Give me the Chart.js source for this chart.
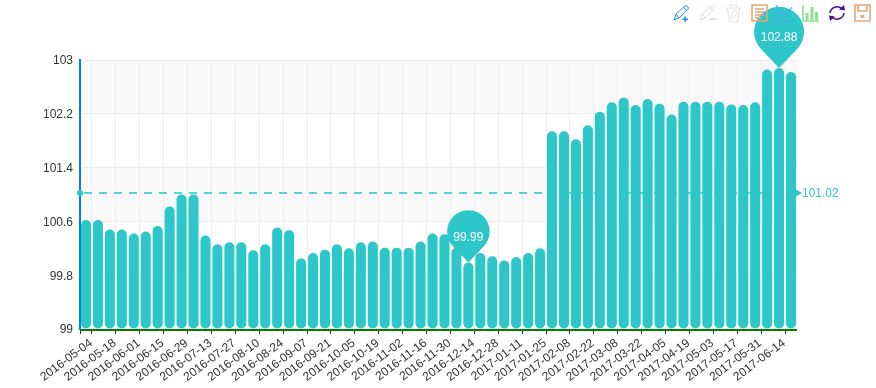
<!DOCTYPE html>
<html><head><meta charset="utf-8">
<style>html,body{margin:0;padding:0;background:#fff}#w{position:relative;width:876px;height:388px}canvas{display:block}</style>
<script src="https://cdn.jsdelivr.net/npm/chart.js@4"></script>
</head><body><div id="w"><canvas id="c" width="876" height="388"></canvas></div>
<script>
const categories = [
"2016-05-04","2016-05-11","2016-05-18","2016-05-25","2016-06-01","2016-06-08","2016-06-15","2016-06-22","2016-06-29",
"2016-07-06","2016-07-13","2016-07-20","2016-07-27","2016-08-03","2016-08-10","2016-08-17","2016-08-24","2016-08-31",
"2016-09-07","2016-09-14","2016-09-21","2016-09-28","2016-10-05","2016-10-12","2016-10-19","2016-10-26",
"2016-11-02","2016-11-09","2016-11-16","2016-11-23","2016-11-30","2016-12-07","2016-12-14","2016-12-21","2016-12-28",
"2017-01-04","2017-01-11","2017-01-18","2017-01-25","2017-02-01","2017-02-08","2017-02-15","2017-02-22",
"2017-03-01","2017-03-08","2017-03-15","2017-03-22","2017-03-29","2017-04-05","2017-04-12","2017-04-19","2017-04-26",
"2017-05-03","2017-05-10","2017-05-17","2017-05-24","2017-05-31","2017-06-07","2017-06-14","2017-06-21"];
const values = [
100.62,100.62,100.48,100.48,100.42,100.45,100.53,100.82,101.0,101.0,
100.39,100.26,100.29,100.29,100.17,100.26,100.51,100.47,100.05,100.13,
100.18,100.26,100.2,100.29,100.3,100.21,100.21,100.21,100.3,100.42,
100.41,100.21,99.99,100.13,100.08,100.02,100.07,100.13,100.2,101.94,
101.94,101.82,102.03,102.23,102.37,102.44,102.33,102.42,102.35,102.19,
102.38,102.38,102.38,102.38,102.34,102.33,102.37,102.86,102.88,102.82];
const yTicks = [99,99.8,100.6,101.4,102.2,103];
const meanValue = 101.02;
const pins = [{index:32,label:"99.99",r:21.3},{index:58,label:"102.88",r:25}];

const TEAL = '#2ec7c9', FONT = '"Liberation Sans", Arial, sans-serif';

const icons = [
 {x:673,y:5,c:'#1e90ff',w:1,p:['M1 15 L3 9 L12 1 Q14 0 15 2 Q16 3 14.5 5 L6 13 Z','M3 9 L6 13','M11 2.5 L14 6'],f:['M11.5 11.5h1.6v2h2v1.6h-2v2h-1.6v-2h-2v-1.6h2z']},
 {x:699,y:5,c:'#dcdcdc',w:1,p:['M1 15 L3 9 L12 1 Q14 0 15 2 Q16 3 14.5 5 L6 13 Z','M3 9 L6 13','M11 2.5 L14 6'],f:['M10 13.5h7v1.6h-7z']},
 {x:725,y:3,c:'#e2e2e2',w:1,p:['M1 5 H16','M5 5 V2 H12 V5','M2.5 5 L4.5 19 H12.5 L14.5 5','M6 15 Q5 10 11 7 Q13 12 8 15 Z']},
 {x:751,y:4,c:'#e8a678',w:1.6,p:['M1 1 H16 V17 H1 Z','M4 5 H13','M4 8 H13','M4 11 H13','M4 14 H11']},
 {x:776,y:5,c:'#4da6f5',w:1.2,p:['M1 0 V16 H17','M2 13 L7 6 L10 10 L16 2']},
 {x:802,y:5,c:'#8fe08f',w:1.6,p:['M1 0 V16 H17'],f:['M3.5 8h3v7h-3z','M8.5 2h3v13h-3z','M13 7h3v8h-3z']},
 {x:828,y:5,c:'#4b0f8c',w:1.6,p:['M2 8 A7 7 0 0 1 14 4','M16 8 A7 7 0 0 1 4 12'],f:['M11 4.5 L17 5.5 L16 0 Z','M7 11.5 L1 10.5 L2 16 Z']},
 {x:854,y:4,c:'#e8a678',w:1.6,p:['M1 1 H16 V17 H1 Z','M4 1 V7 H13 V1'],f:['M6.5 11h4v3h-4z']}
];

const decor = {
 id:'decor',
 beforeDraw(chart){
  const {ctx,chartArea:a,scales:{y}} = chart;
  ctx.save();ctx.fillStyle='#f9f9f9';
  for(let i=0;i<yTicks.length-1;i+=2){
    const t=y.getPixelForValue(yTicks[i+1]),b=y.getPixelForValue(yTicks[i]);
    ctx.fillRect(a.left,t,a.right-a.left,b-t);
  }
  ctx.restore();
 },
 afterDatasetsDraw(chart){
  const {ctx,chartArea:a,scales:{x,y}} = chart;
  const my=Math.round(y.getPixelForValue(meanValue));
  ctx.save();
  ctx.strokeStyle='#008000';ctx.lineWidth=2;
  ctx.beginPath();ctx.moveTo(a.left,a.bottom+1);ctx.lineTo(a.right,a.bottom+1);ctx.stroke();
  ctx.strokeStyle='rgba(46,199,201,0.8)';ctx.lineWidth=2;ctx.setLineDash([8,7]);
  ctx.beginPath();ctx.moveTo(a.left+4,my);ctx.lineTo(a.right-2,my);ctx.stroke();ctx.setLineDash([]);
  ctx.fillStyle=TEAL;
  ctx.beginPath();ctx.arc(a.left,my,3,0,Math.PI*2);ctx.fill();
  ctx.beginPath();ctx.moveTo(a.right-2,my-4);ctx.lineTo(a.right+5,my);ctx.lineTo(a.right-2,my+4);ctx.closePath();ctx.fill();
  ctx.font='12px '+FONT;ctx.textAlign='left';ctx.textBaseline='middle';
  ctx.fillText(String(meanValue),a.right+5,my+0.5);
  for(const p of pins){
    const px=x.getPixelForValue(p.index),py=y.getPixelForValue(values[p.index]);
    const d=p.r*1.45,cy=py-d,th=Math.asin(p.r/d);
    ctx.fillStyle=TEAL;ctx.beginPath();
    ctx.arc(px,cy,p.r,Math.PI/2+(Math.PI/2-th),Math.PI/2-(Math.PI/2-th),false);
    ctx.lineTo(px,py);ctx.closePath();ctx.fill();
    ctx.fillStyle='#fff';ctx.textAlign='center';ctx.textBaseline='middle';
    ctx.font='12px '+FONT;
    ctx.fillText(p.label,px,cy+6);
  }
  ctx.restore();
 },
 afterDraw(chart){
  const ctx=chart.ctx;
  for(const ic of icons){
    ctx.save();ctx.translate(ic.x,ic.y);
    ctx.strokeStyle=ic.c;ctx.fillStyle=ic.c;ctx.lineWidth=ic.w;
    for(const s of ic.p) ctx.stroke(new Path2D(s));
    for(const s of (ic.f||[])) ctx.fill(new Path2D(s));
    ctx.restore();
  }
 }
};

new Chart(document.getElementById('c'),{
 type:'bar',
 data:{labels:categories,datasets:[{data:values,base:99,backgroundColor:TEAL,
   borderRadius:{topLeft:5,topRight:5,bottomLeft:5,bottomRight:5},
   borderSkipped:false,borderWidth:0,inflateAmount:0,categoryPercentage:1,barPercentage:0.84}]},
 plugins:[decor],
 options:{
  responsive:false,animation:false,
  layout:{padding:{top:60,right:79,left:0,bottom:0}},
  plugins:{legend:{display:false},tooltip:{enabled:false}},
  scales:{
   x:{
    type:'category',offset:true,
    afterFit(s){s.height=59},
    grid:{
      offset:true,
      color:c=>(c.index%2===1||c.index===categories.length)?'#eeeeee':'rgba(0,0,0,0)',
      tickColor:c=>(c.index%2===1||c.index===0)?'#333':'rgba(0,0,0,0)',
      tickLength:5,lineWidth:1
    },
    border:{display:false},
    ticks:{autoSkip:false,minRotation:37,maxRotation:37,labelOffset:5,padding:2,color:'#333',font:{family:FONT,size:12},
      callback(v,i){return i%2===0?categories[i]:''}}
   },
   y:{
    min:99,max:103,
    afterFit(s){s.width=80},
    afterBuildTicks(s){s.ticks=yTicks.map(v=>({value:v}))},
    grid:{color:'#eeeeee',lineWidth:1,drawTicks:false},
    border:{color:'#0087cd',width:2},
    ticks:{padding:7,labelOffset:1,color:'#333',font:{family:FONT,size:12},callback:v=>String(v)}
   }
  }
 }
});
</script></body></html>
